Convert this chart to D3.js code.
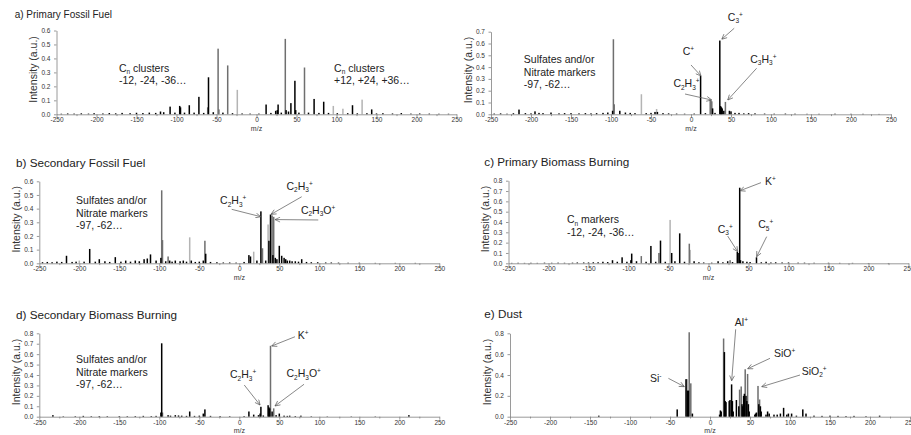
<!DOCTYPE html>
<html>
<head>
<meta charset="utf-8">
<script src="https://cdn.jsdelivr.net/npm/d3@7"></script>
<style>
  body { margin: 0; background: #fff; }
  svg { display: block; font-family: "Liberation Sans", Arial, sans-serif; }
</style>
</head>
<body>
<div id="chart"></div>
<script>
// m/z axis
const mzTicks = d3.range(-250, 251, 50);
const mzMinor = d3.range(-225, 250, 50);

// peaks: [m/z, intensity, shade]  k = black, g = grey, l = light grey
const peaksA = [
  [-108,0.055,"k"],[-96,0.06,"k"],[-95,0.05,"k"],[-84,0.065,"k"],[-72,0.125,"k"],
  [-61,0.05,"g"],[-60,0.265,"k"],[-48,0.47,"g"],[-47,0.035,"g"],[-36,0.35,"g"],[-24,0.175,"l"],
  [12,0.07,"k"],[24,0.025,"k"],[26,0.03,"k"],[27,0.07,"k"],[36,0.54,"g"],[37,0.03,"k"],
  [43,0.08,"k"],[48,0.24,"k"],[49,0.03,"k"],[60,0.335,"g"],[72,0.11,"k"],[84,0.09,"k"],
  [96,0.06,"l"],[108,0.04,"l"],[120,0.065,"k"],[132,0.105,"l"],[144,0.035,"k"]
];
const noiseA = [
  [-244,0.004],[-236,0.006],[-228,0.005],[-219,0.007],[-210,0.005],[-203,0.008],[-192,0.006],
  [-184,0.009],[-176,0.007],[-168,0.01],[-158,0.008],[-150,0.011],[-142,0.009],[-134,0.012],
  [-126,0.01],[-120,0.02],[-116,0.015],[-102,0.012],[-90,0.012],[-78,0.012],[-66,0.01],
  [-54,0.015],[-42,0.012],[-30,0.008],[-18,0.006],[-8,0.005],[3,0.005],[18,0.01],[31,0.012],
  [40,0.02],[53,0.012],[65,0.012],[78,0.01],[90,0.01],[101,0.008],[114,0.008],[126,0.007],
  [138,0.008],[150,0.006],[158,0.008],[170,0.006],[181,0.009],[193,0.005],[204,0.006],
  [216,0.005],[228,0.004],[240,0.004]
];

const peaksB = [
  [-215,0.04,"k"],[-195,0.025,"k"],[-98,0.03,"k"],[-97,0.636,"g"],[-96,0.085,"g"],[-89,0.03,"k"],
  [-62,0.17,"l"],[-45,0.02,"k"],[-43,0.045,"l"],[-42,0.02,"k"],
  [12,0.325,"k"],[24,0.12,"g"],[25,0.115,"g"],[26,0.11,"g"],[27,0.05,"k"],
  [36,0.625,"k"],[37,0.07,"k"],[38,0.06,"k"],[39,0.05,"k"],[41,0.03,"k"],[43,0.105,"g"],
  [48,0.03,"k"],[50,0.025,"k"]
];
const noiseB = [
  [-246,0.006],[-238,0.008],[-230,0.005],[-222,0.009],[-207,0.01],[-200,0.008],[-190,0.012],
  [-185,0.01],[-175,0.015],[-165,0.008],[-158,0.01],[-150,0.01],[-140,0.008],[-132,0.01],
  [-125,0.008],[-118,0.01],[-110,0.012],[-104,0.015],[-82,0.015],[-76,0.012],[-70,0.01],
  [-56,0.01],[-50,0.012],[-35,0.01],[-28,0.008],[-18,0.006],[-8,0.005],[4,0.006],[18,0.01],
  [30,0.012],[55,0.012],[60,0.012],[66,0.008],[72,0.01],[80,0.008],[92,0.006],[104,0.005],
  [118,0.006],[130,0.005],[145,0.004],[160,0.004],[180,0.005],[200,0.004],[215,0.004],[235,0.003]
];

const peaksC = [
  [-216,0.055,"k"],[-200,0.02,"l"],[-187,0.105,"k"],[-175,0.03,"k"],[-155,0.045,"k"],
  [-119,0.03,"k"],[-115,0.035,"k"],[-111,0.065,"k"],[-98,0.04,"k"],[-97,0.534,"g"],[-96,0.17,"g"],
  [-89,0.05,"g"],[-87,0.02,"k"],[-80,0.02,"k"],[-62,0.19,"l"],[-60,0.02,"k"],
  [-45,0.02,"k"],[-43,0.165,"g"],[-42,0.07,"k"],
  [12,0.06,"k"],[14,0.05,"k"],[18,0.085,"l"],[27,0.38,"k"],[29,0.11,"g"],[36,0.284,"l"],
  [37,0.165,"k"],[39,0.357,"k"],[41,0.35,"g"],[42,0.06,"k"],[43,0.34,"g"],[45,0.04,"k"],
  [50,0.128,"k"],[53,0.055,"k"],[56,0.04,"k"],[58,0.03,"k"],[63,0.02,"k"],[78,0.03,"k"]
];
const noiseC = [
  [-246,0.008],[-240,0.01],[-234,0.008],[-228,0.012],[-222,0.01],[-209,0.01],[-204,0.012],
  [-194,0.012],[-180,0.012],[-168,0.015],[-162,0.01],[-148,0.012],[-142,0.02],[-136,0.012],
  [-130,0.02],[-125,0.015],[-104,0.02],[-92,0.015],[-84,0.012],[-74,0.015],[-70,0.02],
  [-66,0.012],[-55,0.01],[-50,0.012],[-36,0.01],[-28,0.008],[-20,0.006],[-12,0.006],[-4,0.005],
  [6,0.01],[22,0.02],[33,0.02],[47,0.03],[60,0.02],[66,0.015],[70,0.015],[74,0.012],[84,0.01],
  [90,0.008],[98,0.008],[108,0.006],[115,0.006],[124,0.005],[136,0.004],[150,0.004],[170,0.003],
  [195,0.003],[220,0.003]
];

const peaksD = [
  [-170,0.006,"k"],[-156,0.008,"k"],[-144,0.01,"k"],[-132,0.015,"k"],[-120,0.03,"k"],
  [-108,0.058,"k"],[-97,0.03,"k"],[-96,0.094,"k"],[-84,0.07,"g"],[-72,0.168,"k"],
  [-62,0.1,"g"],[-60,0.22,"k"],[-48,0.42,"l"],[-46,0.1,"k"],[-36,0.29,"k"],
  [-24,0.19,"g"],[-23,0.13,"l"],[-18,0.02,"k"],
  [12,0.02,"k"],[24,0.02,"k"],[27,0.03,"g"],[36,0.11,"k"],[37,0.1,"k"],[39,0.732,"k"],
  [40,0.03,"k"],[43,0.02,"k"],[48,0.015,"k"],[60,0.058,"k"],[72,0.015,"k"],[84,0.01,"k"]
];
const noiseD = [
  [-246,0.004],[-238,0.005],[-230,0.004],[-222,0.005],[-214,0.004],[-205,0.006],[-196,0.005],
  [-188,0.006],[-180,0.005],[-164,0.008],[-150,0.008],[-138,0.01],[-126,0.012],[-114,0.015],
  [-102,0.015],[-90,0.02],[-78,0.015],[-66,0.015],[-54,0.015],[-42,0.02],[-30,0.015],
  [-12,0.01],[-6,0.008],[4,0.006],[18,0.01],[30,0.012],[52,0.012],[66,0.01],[78,0.008],
  [92,0.008],[100,0.008],[112,0.006],[120,0.006],[132,0.005],[150,0.005],[164,0.004],
  [180,0.004],[200,0.003],[225,0.003]
];

const peaksE = [
  [-233,0.015,"k"],[-98,0.04,"k"],[-97,0.704,"k"],[-96,0.04,"g"],[-89,0.015,"k"],[-80,0.015,"k"],
  [-72,0.01,"k"],[-62,0.05,"k"],[-45,0.03,"k"],[-43,0.07,"k"],
  [12,0.05,"k"],[18,0.02,"k"],[24,0.015,"k"],[26,0.03,"k"],[27,0.095,"k"],[36,0.11,"k"],
  [37,0.09,"k"],[38,0.08,"k"],[39,0.68,"g"],[41,0.05,"k"],[43,0.08,"g"],[50,0.03,"k"],
  [56,0.01,"k"],[63,0.01,"k"],[77,0.01,"k"],[212,0.015,"k"]
];
const noiseE = [
  [-220,0.004],[-205,0.005],[-195,0.008],[-185,0.005],[-175,0.006],[-165,0.005],[-150,0.006],
  [-140,0.005],[-130,0.006],[-120,0.008],[-110,0.006],[-104,0.008],[-86,0.01],[-76,0.012],
  [-66,0.008],[-56,0.008],[-50,0.01],[-36,0.008],[-24,0.006],[-12,0.005],[6,0.006],[30,0.012],
  [46,0.015],[60,0.008],[70,0.006],[90,0.004],[110,0.003],[140,0.003],[170,0.003]
];

const peaksF = [
  [-139,0.01,"k"],[-41,0.07,"k"],[-30,0.36,"k"],[-29,0.36,"g"],[-28,0.25,"k"],[-27,0.25,"k"],
  [-26,0.81,"g"],[-24,0.32,"g"],[-22,0.03,"k"],
  [12,0.02,"k"],[13,0.06,"k"],[14,0.05,"k"],[17,0.75,"g"],[18,0.62,"k"],[19,0.15,"k"],
  [20,0.14,"k"],[24,0.15,"k"],[25,0.16,"k"],[27,0.31,"k"],[28,0.15,"k"],[29,0.05,"k"],
  [33,0.16,"k"],[36,0.1,"k"],[37,0.26,"g"],[39,0.29,"g"],[40,0.12,"k"],[41,0.1,"k"],
  [42,0.2,"k"],[43,0.22,"k"],[44,0.455,"g"],[45,0.2,"k"],[46,0.15,"k"],[47,0.41,"g"],
  [48,0.12,"k"],[49,0.05,"k"],[56,0.02,"k"],[57,0.03,"k"],[58,0.04,"k"],[60,0.295,"g"],
  [61,0.12,"k"],[62,0.165,"g"],[63,0.1,"k"],[64,0.05,"k"],[70,0.02,"k"],[72,0.05,"k"],
  [74,0.03,"k"],[80,0.02,"k"],[84,0.02,"k"],[88,0.03,"k"],[92,0.085,"k"],[96,0.02,"k"],
  [98,0.03,"k"],[102,0.03,"k"],[108,0.01,"k"],[116,0.07,"k"],[120,0.03,"k"]
];
const noiseF = [
  [130,0.01],[140,0.008],[150,0.01],[160,0.008],[170,0.006],[180,0.008],[195,0.005],[212,0.01]
];

const shade = { k: "#000000", g: "#6f6f6f", l: "#b4b4b4" };
const drawOrder = { l: 0, g: 1, k: 2 };

// layout of the six panels (pixel frame of the -250..250 / 0..max box)
const panels = [
  { peaks: peaksA, noise: noiseA, yMax: 0.6, yStep: 0.1, left: 56.5, top: 30.5, bottom: 114.3,
    title: "a) Primary Fossil Fuel", titleX: 14.7, titleY: 18.3, titleSize: 10,
    notes: [ { mz: -172, v: 0.305, lines: ["C_n clusters", "-12, -24, -36…"] },
             { mz: 97, v: 0.305, lines: ["C_n clusters", "+12, +24, +36…"] } ],
    arrows: [] },
  { peaks: peaksB, noise: noiseB, yMax: 0.7, yStep: 0.1, left: 491, top: 31.7, bottom: 114.3,
    title: null,
    notes: [ { mz: -209, v: 0.432, lines: ["Sulfates and/or", "Nitrate markers", "-97, -62…"] },
             { mz: 46, v: 0.793, lines: ["C_3^+"] },
             { mz: -10.4, v: 0.502, lines: ["C^+"] },
             { mz: -22, v: 0.229, lines: ["C_2H_3^+"] },
             { mz: 74, v: 0.437, lines: ["C_3H_3^+"] } ],
    arrows: [ [54, 0.729, 38.4, 0.636], [0, 0.418, 12.5, 0.325],
              [-7.5, 0.172, 25.9, 0.121], [82, 0.39, 45.9, 0.121] ] },
  { peaks: peaksC, noise: noiseC, yMax: 0.6, yStep: 0.1, left: 39.3, top: 181.3, bottom: 263.3,
    title: "b) Secondary Fossil Fuel", titleX: 16, titleY: 166.7, titleSize: 11.7,
    notes: [ { mz: -204, v: 0.432, lines: ["Sulfates and/or", "Nitrate markers", "-97, -62…"] },
             { mz: -24, v: 0.432, lines: ["C_2H_3^+"] },
             { mz: 59, v: 0.537, lines: ["C_2H_3^+"] },
             { mz: 77, v: 0.361, lines: ["C_2H_3O^+"] } ],
    arrows: [ [-9.5, 0.395, 26.8, 0.341], [78, 0.487, 39.6, 0.358], [98.7, 0.317, 44.6, 0.32] ] },
  { peaks: peaksD, noise: noiseD, yMax: 0.8, yStep: 0.1, left: 508.5, top: 180.7, bottom: 263.3,
    title: "c) Primary Biomass Burning", titleX: 484.3, titleY: 166, titleSize: 11.7,
    notes: [ { mz: -177, v: 0.387, lines: ["C_n markers", "-12, -24, -36…"] },
             { mz: 70.6, v: 0.758, lines: ["K^+"] },
             { mz: 11.5, v: 0.296, lines: ["C_3^+"] },
             { mz: 62.2, v: 0.339, lines: ["C_5^+"] } ],
    arrows: [ [65.6, 0.781, 39.4, 0.703], [24, 0.264, 36.5, 0.112], [72.7, 0.258, 60.2, 0.064] ] },
  { peaks: peaksE, noise: noiseE, yMax: 0.8, yStep: 0.1, left: 39.3, top: 333.3, bottom: 416.7,
    title: "d) Secondary Biomass Burning", titleX: 16, titleY: 319.3, titleSize: 11.7,
    notes: [ { mz: -204, v: 0.512, lines: ["Sulfates and/or", "Nitrate markers", "-97, -62…"] },
             { mz: 73, v: 0.742, lines: ["K^+"] },
             { mz: -11.6, v: 0.368, lines: ["C_2H_3^+"] },
             { mz: 59, v: 0.378, lines: ["C_2H_3O^+"] } ],
    arrows: [ [69.6, 0.767, 40.5, 0.678], [6.2, 0.304, 25.9, 0.112], [80.9, 0.311, 44.6, 0.103] ] },
  { peaks: peaksF, noise: noiseF, yMax: 0.8, yStep: 0.2, left: 510, top: 333.3, bottom: 416.7,
    title: "e) Dust", titleX: 484.3, titleY: 318.3, titleSize: 11.7,
    notes: [ { mz: 31, v: 0.87, lines: ["Al^+"] },
             { mz: 80, v: 0.576, lines: ["SiO^+"] },
             { mz: 114.6, v: 0.4, lines: ["SiO_2^+"] },
             { mz: -75, v: 0.336, lines: ["Si^-"] } ],
    arrows: [ [32.1, 0.838, 27.1, 0.345], [75, 0.56, 47.1, 0.46],
              [112.5, 0.4, 64.6, 0.288], [-52, 0.368, -32.1, 0.288] ] }
];

const svg = d3.select("#chart").append("svg")
    .attr("width", 911)
    .attr("height", 435);

svg.append("defs").append("marker")
    .attr("id", "head")
    .attr("viewBox", "0 0 10 10")
    .attr("refX", 9.5).attr("refY", 5)
    .attr("markerWidth", 6).attr("markerHeight", 6)
    .attr("markerUnits", "userSpaceOnUse")
    .attr("orient", "auto")
    .append("path")
    .attr("d", "M1,1 L9.5,5 L1,9")
    .attr("fill", "none")
    .attr("stroke", "#555")
    .attr("stroke-width", 1.1);

// text with _x subscripts and ^x superscripts
function richText(text, str, size) {
    const re = /([_^])(.)|([^_^]+)/g;
    let m, shift = 0;
    while ((m = re.exec(str))) {
        if (m[3]) {
            text.append("tspan").attr("dy", -shift).text(m[3]);
            shift = 0;
        } else {
            const d = m[1] === "_" ? size * 0.22 : -size * 0.38;
            text.append("tspan")
                .attr("font-size", size * 0.62)
                .attr("dy", d - shift)
                .text(m[2]);
            shift = d;
        }
    }
}

function styleAxis(g) {
    g.attr("font-family", null).attr("font-size", null);
    g.select(".domain").attr("stroke", "#808080").attr("stroke-width", 0.8);
    g.selectAll(".tick line").attr("stroke", "#808080").attr("stroke-width", 0.8);
    g.selectAll(".tick text").attr("fill", "#333").attr("font-size", 6.5);
}

panels.forEach(p => {
    const x = d3.scaleLinear().domain([-250, 250]).range([p.left, p.left + 400]);
    const y = d3.scaleLinear().domain([0, p.yMax]).range([p.bottom, p.top]);
    const g = svg.append("g");

    // spectrum bars
    const bars = p.noise.map(d => [d[0], d[1], "k"]).concat(p.peaks)
        .sort((a, b) => drawOrder[a[2]] - drawOrder[b[2]]);
    g.append("g").selectAll("rect")
        .data(bars)
        .join("rect")
        .attr("x", d => x(d[0]) - 0.75)
        .attr("width", 1.5)
        .attr("y", d => y(d[1]))
        .attr("height", d => y(0) - y(d[1]))
        .attr("fill", d => shade[d[2]]);

    // axes
    g.append("g")
        .attr("transform", `translate(0,${p.bottom})`)
        .call(d3.axisBottom(x).tickValues(mzTicks).tickSize(3).tickSizeOuter(0)
            .tickPadding(0.5).tickFormat(d => String(d)))
        .call(styleAxis);
    g.append("g")
        .attr("transform", `translate(0,${p.bottom})`)
        .call(d3.axisBottom(x).tickValues(mzMinor).tickSize(1.8).tickFormat(""))
        .call(styleAxis)
        .select(".domain").remove();
    g.append("g")
        .attr("transform", `translate(${p.left},0)`)
        .call(d3.axisLeft(y).tickValues(d3.range(0, p.yMax + 1e-9, p.yStep)).tickSize(2.5)
            .tickSizeOuter(0).tickPadding(3.5).tickFormat(d3.format(".1f")))
        .call(styleAxis);

    g.append("text")
        .attr("x", x(0)).attr("y", p.bottom + 16.5)
        .attr("text-anchor", "middle")
        .attr("font-size", 7).attr("fill", "#333")
        .text("m/z");

    g.append("text")
        .attr("transform", `translate(${p.left - 23.5},${(p.top + p.bottom) / 2 - 3}) rotate(-90)`)
        .attr("text-anchor", "middle")
        .attr("dominant-baseline", "central")
        .attr("font-size", 10.5).attr("fill", "#333")
        .text("Intensity (a.u.)");

    if (p.title) {
        g.append("text")
            .attr("x", p.titleX).attr("y", p.titleY)
            .attr("font-size", p.titleSize).attr("fill", "#222")
            .text(p.title);
    }

    // annotations
    p.notes.forEach(n => {
        n.lines.forEach((line, i) => {
            const t = g.append("text")
                .attr("x", x(n.mz))
                .attr("y", y(n.v) + i * 12.3)
                .attr("font-size", 10.5)
                .attr("fill", "#222");
            richText(t, line, 10.5);
        });
    });
    g.append("g").selectAll("line")
        .data(p.arrows)
        .join("line")
        .attr("x1", d => x(d[0])).attr("y1", d => y(d[1]))
        .attr("x2", d => x(d[2])).attr("y2", d => y(d[3]))
        .attr("stroke", "#555")
        .attr("stroke-width", 0.7)
        .attr("marker-end", "url(#head)");
});
</script>
</body>
</html>
